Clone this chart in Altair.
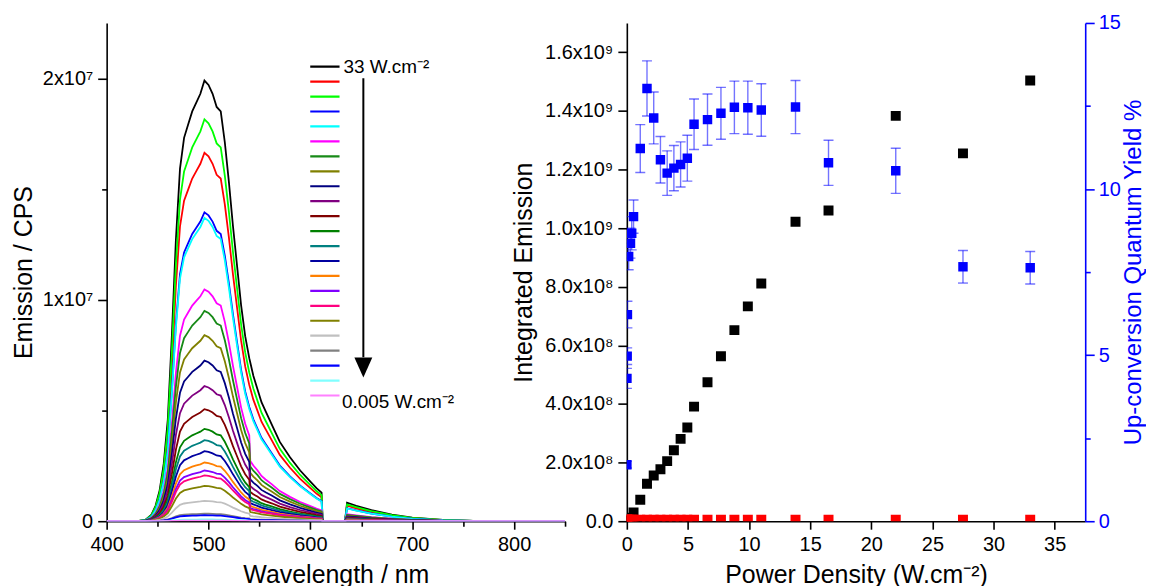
import altair as alt
import pandas as pd

FONT = "Liberation Sans, Arial, sans-serif"

# ---------------- Left panel: emission spectra ----------------
wavelength = [400, 430, 438, 444, 448, 452, 456, 460, 464, 468,
              472, 476, 480, 484, 488, 492, 496, 500, 504, 508,
              512, 516, 520, 524, 528, 532, 536, 540, 541, 544,
              548, 552, 556, 562, 570, 580, 590, 600, 606, 611,
              612, 634, 636, 645, 660, 680, 700, 730, 760, 800, 850]
# normalised spectral shape
profile_bright = [0, 0, 0.003, 0.015, 0.035, 0.07, 0.13, 0.23, 0.42, 0.64,
                  0.80, 0.87, 0.90, 0.93, 0.95, 0.97, 1.0, 0.99, 0.97, 0.94,
                  0.93, 0.86, 0.77, 0.67, 0.58, 0.49, 0.42, 0.37, 0.36, 0.33,
                  0.30, 0.27, 0.25, 0.22, 0.18, 0.145, 0.115, 0.09, 0.075, 0.065,
                  0.0, 0.0, 0.042, 0.035, 0.025, 0.015, 0.008, 0.003, 0.001, 0, 0]
# shape of the dimmer curves (step down at 541 nm)
profile_dim = [0, 0, 0.003, 0.015, 0.035, 0.07, 0.13, 0.23, 0.42, 0.64,
               0.80, 0.87, 0.90, 0.93, 0.95, 0.97, 1.0, 0.99, 0.97, 0.94,
               0.93, 0.86, 0.77, 0.67, 0.58, 0.49, 0.42, 0.37, 0.26, 0.24,
               0.22, 0.195, 0.18, 0.16, 0.13, 0.105, 0.083, 0.065, 0.054, 0.047,
               0.0, 0.0, 0.03, 0.025, 0.018, 0.011, 0.006, 0.002, 0.001, 0, 0]

spectra_power = ["33", "27.5", "22", "16.5", "13.8", "11", "9.9", "8.8", "7.7", "6.6",
                 "5.5", "4.95", "4.4", "3.85", "3.3", "2.75", "2.2", "1.65", "1.1", "0.55",
                 "0.3", "0.05", "0.005"]
spectra_color = ["#000000", "#FF0000", "#00FF00", "#0000FF", "#00FFFF", "#FF00FF", "#178A17", "#808000",
                 "#000080", "#800080", "#800000", "#008000", "#008080", "#0000A0", "#FF8000", "#8000FF",
                 "#FF0080", "#808000", "#C0C0C0", "#808080", "#0000FF", "#80FFFF", "#FF80FF"]
spectra_peak = [1.99e7, 1.664e7, 1.815e7, 1.395e7, 1.37e7, 1.047e7, 0.95e7, 0.84e7, 0.725e7, 0.61e7,
                0.506e7, 0.417e7, 0.366e7, 0.316e7, 0.265e7, 0.229e7, 0.207e7, 0.16e7, 0.092e7, 0.034e7,
                0.027e7, 0.008e7, 0.003e7]
spectra_shape = ["bright"] * 5 + ["dim"] * 18

# legend end labels and arrow annotation (data coordinates of the left panel)
legend_text = ["33 W.cm\u207b\u00b2", "0.005 W.cm\u207b\u00b2"]
legend_text_wl = [632.5, 631.0]
legend_text_y = [2.053e7, 0.54e7]
arrow_wl = [652]
arrow_top = [2.0e7]
arrow_base = [0.74e7]
arrowhead_y = [0.694e7]

# ---------------- Right panel: power dependence ----------------
power = [0.005, 0.01, 0.03, 0.05, 0.15, 0.3, 0.4, 0.55, 1.1, 1.65,
         2.2, 2.75, 3.3, 3.85, 4.4, 4.95, 5.5, 6.6, 7.7, 8.8,
         9.9, 11, 13.8, 16.5, 22, 27.5, 33]
integrated = [0.00001e9, 0.00005e9, 0.0003e9, 0.0006e9, 0.002e9, 0.006e9, 0.012e9, 0.03e9, 0.073e9, 0.128e9,
              0.156e9, 0.177e9, 0.205e9, 0.242e9, 0.281e9, 0.32e9, 0.391e9, 0.474e9, 0.563e9, 0.652e9,
              0.733e9, 0.811e9, 1.022e9, 1.06e9, 1.383e9, 1.255e9, 1.504e9]
reference = [0.005e9] * 27
qy = [1.7, 4.3, 4.97, 6.22, 7.97, 8.37, 8.67, 9.17, 11.22, 13.03,
      12.14, 10.88, 10.48, 10.63, 10.74, 10.93, 11.95, 12.09, 12.28, 12.46,
      12.45, 12.38, 12.47, 10.79, 10.55, 7.66, 7.63]
qy_err = [0.1, 0.3, 0.25, 0.4, 0.4, 0.45, 0.5, 0.5, 0.72, 0.83,
          0.78, 0.7, 0.67, 0.68, 0.68, 0.69, 0.76, 0.77, 0.78, 0.79,
          0.8, 0.79, 0.8, 0.68, 0.68, 0.49, 0.49]

# ---------------- build tables ----------------
profiles = {"bright": profile_bright, "dim": profile_dim}
rows = []
for i, p in enumerate(spectra_power):
    prof = profiles[spectra_shape[i]]
    for w, f in zip(wavelength, prof):
        rows.append({"power": p, "idx": i, "wl": w, "em": spectra_peak[i] * f})
spec_df = pd.DataFrame(rows)

arrow_df = pd.DataFrame({"wl": arrow_wl, "y1": arrow_top, "y2": arrow_base, "yh": arrowhead_y})
ltext_df = pd.DataFrame({"wl": legend_text_wl, "y": legend_text_y, "t": legend_text})

right_df = pd.DataFrame({"p": power, "ie": integrated, "ref": reference, "qy": qy, "err": qy_err})

# ---------------- axis helpers ----------------
def tsize(test, major=9, minor=5):
    return {"condition": {"test": test, "value": major}, "value": minor}

BLUE = "#0000FF"

# ---------------- left chart ----------------
x_left = alt.X("wl:Q", title="Wavelength / nm",
               scale=alt.Scale(domain=[400, 850], nice=False, zero=False),
               axis=alt.Axis(values=list(range(400, 851, 50)),
                             tickSize=tsize("datum.value % 100 == 0", 8, 5),
                             labelExpr="datum.value % 100 == 0 ? datum.label : ''"))
y_left = alt.Y("em:Q", title="Emission / CPS",
               scale=alt.Scale(domain=[0, 2.25e7], nice=False),
               axis=alt.Axis(values=[0, 5e6, 1e7, 1.5e7, 2e7],
                             tickSize=tsize("datum.value % 10000000 == 0"),
                             titlePadding=6,
                             labelExpr="datum.value == 0 ? '0' : (datum.value % 10000000 == 0 ? format(datum.value / 1e7, 'd') + 'x10\u2077' : '')"))

legend = alt.Legend(orient="none", legendX=203, legendY=36.5, title=None,
                    symbolType="stroke", symbolSize=864, symbolStrokeWidth=2.2,
                    clipHeight=14.7, rowPadding=0, padding=0,
                    labelFontSize=8, labelExpr="''")

lines = alt.Chart(spec_df).mark_line(strokeWidth=1.8, clip=True).encode(
    x=x_left, y=y_left,
    color=alt.Color("power:N", scale=alt.Scale(domain=spectra_power, range=spectra_color),
                    sort=spectra_power, legend=legend),
    order=alt.Order("wl:Q"),
)

arrow_rule = alt.Chart(arrow_df).mark_rule(color="black", strokeWidth=2).encode(
    x="wl:Q", y="y1:Q", y2="y2:Q")
arrow_head = alt.Chart(arrow_df).mark_point(shape="M-0.9,-1L0.9,-1L0,1Z", size=400, filled=True,
                                            color="black", opacity=1).encode(x="wl:Q", y="yh:Q")
ltext = alt.Chart(ltext_df).mark_text(align="left", baseline="middle", font=FONT, fontSize=19,
                                       color="black").encode(x="wl:Q", y="y:Q", text="t:N")

left = alt.layer(lines, arrow_rule, arrow_head, ltext).properties(width=460, height=500)

# ---------------- right chart ----------------
x_right = alt.X("p:Q", title="Power Density (W.cm\u207b\u00b2)",
                scale=alt.Scale(domain=[0, 37.5], nice=False),
                axis=alt.Axis(values=[i * 2.5 for i in range(16)],
                              tickSize=tsize("datum.value % 5 == 0", 8, 5),
                              labelExpr="datum.value % 5 == 0 ? datum.label : ''"))

y_ie = alt.Y("ie:Q", title="Integrated Emission",
             scale=alt.Scale(domain=[0, 1.7e9], nice=False),
             axis=alt.Axis(orient="left", values=[i * 1e8 for i in range(18)],
                           tickSize=tsize("round(datum.value / 1e8) % 2 == 0"),
                           labelExpr="round(datum.value / 1e8) % 2 != 0 ? '' : (datum.value == 0 ? '0.0' : (datum.value < 9.5e8 ? format(datum.value / 1e8, '.1f') + 'x10\u2078' : format(datum.value / 1e9, '.1f') + 'x10\u2079'))"))

black_pts = alt.Chart(right_df).mark_square(size=100, color="black", opacity=1, clip=True).encode(
    x=x_right, y=y_ie)
red_pts = alt.Chart(right_df).mark_square(size=100, color="#FF0000", opacity=1, clip=True).encode(
    x="p:Q", y="ref:Q")
left_layer = alt.layer(black_pts, red_pts)

y_qy = alt.Y("lo:Q", title="Up-conversion Quantum Yield %",
             scale=alt.Scale(domain=[0, 15], nice=False),
             axis=alt.Axis(orient="right", values=[i * 2.5 for i in range(7)],
                           tickSize=tsize("datum.value % 5 == 0"),
                           labelExpr="datum.value % 5 == 0 ? datum.label : ''",
                           domainColor=BLUE, tickColor=BLUE, labelColor=BLUE, titleColor=BLUE,
                           labelPadding=4, titlePadding=1, titleFontSize=24,
                           titleAngle=270, titleBaseline="top"))

qy_base = alt.Chart(right_df).transform_calculate(lo="datum.qy - datum.err", hi="datum.qy + datum.err")
err_rule = qy_base.mark_rule(color=BLUE, opacity=0.55, strokeWidth=1.4, clip=True).encode(
    x="p:Q", y=y_qy, y2="hi:Q")
cap_lo = qy_base.mark_tick(orient="horizontal", color=BLUE, opacity=0.55, size=10, thickness=1.4, clip=True).encode(
    x="p:Q", y="lo:Q")
cap_hi = qy_base.mark_tick(orient="horizontal", color=BLUE, opacity=0.55, size=10, thickness=1.4, clip=True).encode(
    x="p:Q", y="hi:Q")
blue_pts = qy_base.mark_square(size=90, color=BLUE, opacity=1, clip=True).encode(
    x="p:Q", y="qy:Q")
right_layer = alt.layer(err_rule, cap_lo, cap_hi, blue_pts)

right = alt.layer(left_layer, right_layer).resolve_scale(y="independent").properties(width=460, height=500)

chart = alt.hconcat(left, right, spacing=62, bounds="flush").properties(
    padding={"left": 3, "top": 4, "right": 0, "bottom": 0}
).configure_view(stroke=None).configure_axis(
    labelFont=FONT, titleFont=FONT, labelFontSize=20, titleFontSize=25,
    titleFontWeight="normal", labelColor="black", titleColor="black",
    domainColor="black", tickColor="black", domainWidth=1.6, tickWidth=1.6,
    grid=False, labelFlush=False, labelOverlap=False, labelPadding=5, titlePadding=8,
).configure_legend(labelFont=FONT)

chart.save("out.html", embed_options={"renderer": "svg", "actions": False})
